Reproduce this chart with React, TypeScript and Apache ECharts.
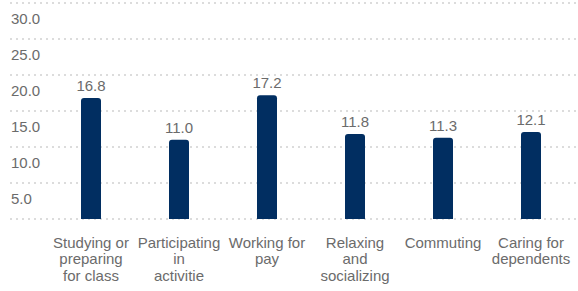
import React, { useEffect, useRef } from "react";
import * as echarts from "echarts";

const categories = [
  "Studying or\npreparing\nfor class",
  "Participating\nin\nactivitie",
  "Working for\npay",
  "Relaxing\nand\nsocializing",
  "Commuting",
  "Caring for\ndependents",
];
const values = [16.8, 11.0, 17.2, 11.8, 11.3, 12.1];
const yMin = 0;
const yMax = 30;
const yInterval = 5;

export default function App() {
  const ref = useRef<HTMLDivElement>(null);
  useEffect(() => {
    if (!ref.current) return;
    const chart = echarts.init(ref.current, undefined, { renderer: "svg" });
    const font = "Liberation Sans, Arial, sans-serif";
    chart.setOption({
      animation: false,
      grid: [
        { left: 10, right: 0, top: 3, bottom: 72 },
        { left: 47, right: 3, top: 3, bottom: 72 },
      ],
      xAxis: [
        { type: "value", gridIndex: 0, show: false, min: 0, max: 1 },
        {
          type: "category",
          gridIndex: 1,
          data: categories,
          axisLine: { show: false },
          axisTick: { show: false },
          axisLabel: {
            interval: 0,
            margin: 15,
            color: "#6b6b6b",
            fontSize: 15,
            lineHeight: 16.5,
            fontFamily: font,
            verticalAlign: "top",
          },
        },
      ],
      yAxis: [
        {
          type: "value",
          gridIndex: 0,
          min: yMin,
          max: yMax,
          interval: yInterval,
          axisLine: { show: false },
          axisTick: { show: false },
          axisLabel: {
            showMinLabel: false,
            formatter: (v: number) => (v === 0 ? "" : v.toFixed(1)),
            align: "left",
            verticalAlign: "top",
            padding: [8, 0, 0, 0],
            margin: -1,
            color: "#6b6b6b",
            fontSize: 15,
            fontFamily: font,
          },
          splitLine: {
            show: true,
            lineStyle: { color: "#dcdcdc", width: 2, type: [2, 4] },
          },
        },
        {
          type: "value",
          gridIndex: 1,
          min: yMin,
          max: yMax,
          interval: yInterval,
          show: false,
          splitLine: { show: false },
        },
      ],
      series: [
        {
          type: "bar",
          xAxisIndex: 1,
          yAxisIndex: 1,
          data: values,
          barWidth: 20,
          itemStyle: { color: "#012e61", borderRadius: [3, 3, 0, 0] },
          label: {
            show: true,
            position: "top",
            distance: 5,
            formatter: (p: any) => Number(p.value).toFixed(1),
            color: "#6b6b6b",
            fontSize: 15,
            fontFamily: font,
          },
        },
      ],
    });
    return () => chart.dispose();
  }, []);
  return (
    <div
      ref={ref}
      style={{ position: "absolute", left: 0, top: 0, width: 578, height: 291 }}
    />
  );
}
